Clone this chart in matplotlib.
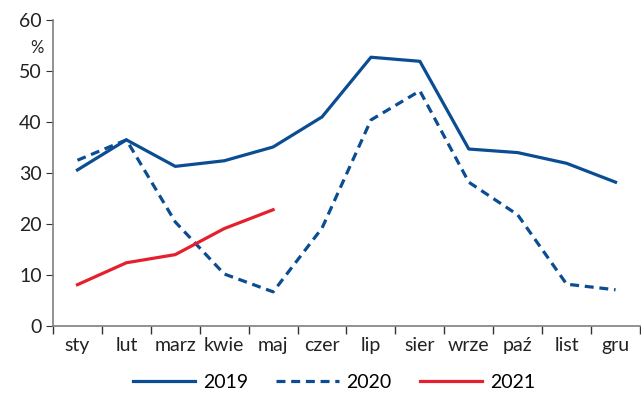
import matplotlib
matplotlib.use("Agg")
import matplotlib.pyplot as plt
import numpy as np

months = ["sty", "lut", "marz", "kwie", "maj", "czer", "lip", "sier", "wrze", "paź", "list", "gru"]
y2019 = [30.6, 36.5, 31.3, 32.4, 35.1, 41.0, 52.7, 51.9, 34.7, 34.0, 31.9, 28.2]
y2020 = [32.5, 36.5, 20.4, 10.2, 6.7, 19.2, 40.4, 46.1, 28.2, 21.8, 8.2, 7.1]
y2021 = [8.1, 12.4, 14.0, 19.1, 22.8]

plt.rcParams['font.family'] = ['Lato', 'DejaVu Sans']
blue = "#0b4d92"
red = "#e5202e"
axc = "#7f7f7f"

fig = plt.figure(figsize=(6.41, 4.17), dpi=100)
ax = fig.add_axes([53/641, 1-326/417, 587/641, 306/417])

x = np.arange(len(months))
ax.plot(x, y2019, color=blue, lw=2.3, label="2019")
ax.plot(x, y2020, color=blue, lw=2.3, ls=(0, (2.8, 1.8)), label="2020")
ax.plot(np.arange(len(y2021)), y2021, color=red, lw=2.3, label="2021")

ax.set_xlim(-0.5, len(months) - 0.5)
ax.set_ylim(0, 60)
ax.set_yticks(range(0, 61, 10))
ax.set_xticks(np.arange(-0.5, len(months), 1.0))
ax.set_xticklabels([])
ax.set_xticks(x, minor=True)
ax.set_xticklabels(months, minor=True)
ax.tick_params(axis='x', which='minor', length=0, labelsize=14, pad=8, colors='#222222')
ax.tick_params(axis='x', which='major', length=6, direction='out', color='#333333', width=1)
ax.tick_params(axis='y', length=5, direction='out', color='#333333', labelsize=14, labelcolor='#222222', pad=3)
for s in ['top', 'right']:
    ax.spines[s].set_visible(False)
for s in ['left', 'bottom']:
    ax.spines[s].set_color(axc)
    ax.spines[s].set_linewidth(1.2)

ax.text(-0.028, 0.91, "%", transform=ax.transAxes, fontsize=12, color='#222222', ha='center', va='center')

fig.legend(loc='lower center', bbox_to_anchor=(0.521, 0.02), ncol=3, frameon=False, fontsize=14,
           handlelength=3.2, columnspacing=1.45, handletextpad=0.4)

fig.savefig("out.png", dpi=100)
